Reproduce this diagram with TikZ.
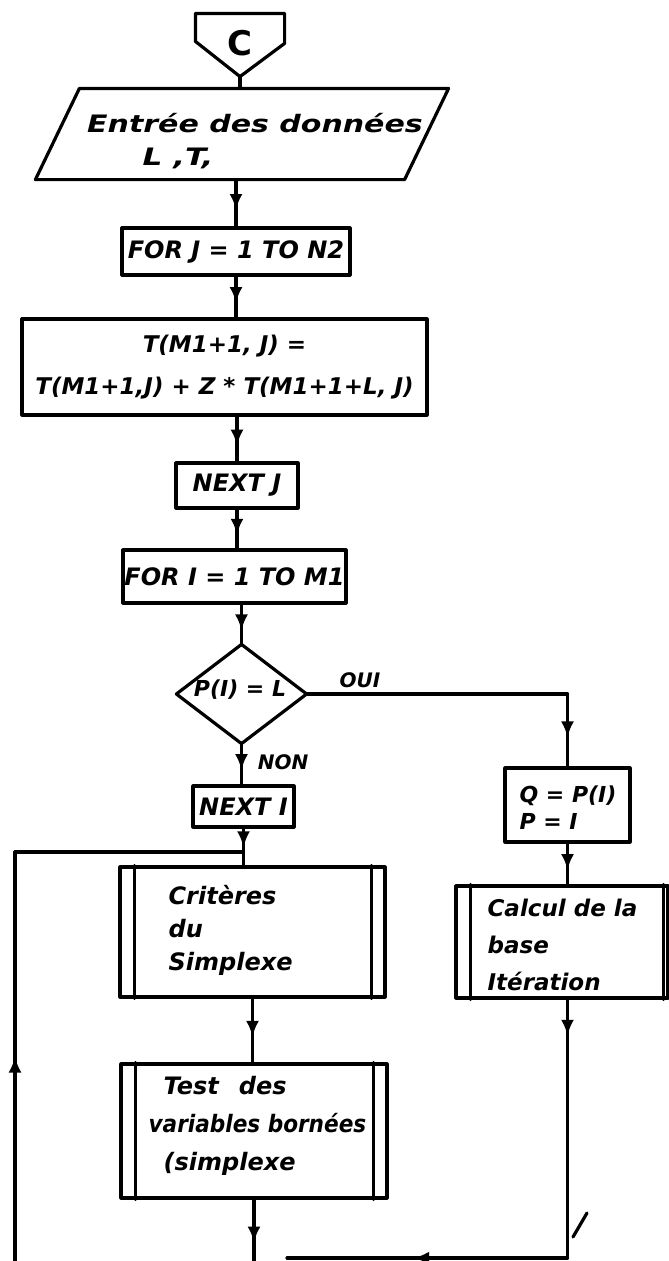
\documentclass[tikz,border=0pt]{standalone}
\usepackage{fontspec}
\setmainfont{DejaVu Sans}
\usepackage{graphicx}
\usetikzlibrary{calc,arrows.meta,decorations.markings}
\begin{document}
\begin{tikzpicture}[x=1pt,y=-1pt,
  line width=3.2pt, line join=round, line cap=round,
  box/.style={draw, rectangle, inner sep=0pt},
  ghost/.style={rectangle, inner sep=0pt},
  txt/.style={font=\fontsize{24}{30}\selectfont\bfseries\itshape, inner sep=0pt},
  lbl/.style={font=\fontsize{20}{22}\selectfont\bfseries\itshape, inner sep=0pt},
  marr/.style={postaction={decorate}, decoration={markings, mark=at position #1 with {\arrow{Latex[length=16pt,width=13pt]}}}}
]
\useasboundingbox (0,0) rectangle (669,1261);

% connector C
\node[ghost, minimum width=86pt, minimum height=60pt] (C) at (240,45) {};
\draw (C.north west) -- (C.north east) -- ([yshift=-30pt]C.north east) -- (C.south) -- ([yshift=-28pt]C.north west) -- cycle;
\node[font=\fontsize{34}{34}\selectfont\bfseries, inner sep=0pt] (Ct) at (240,43) {C};

% input parallelogram
\node[ghost, minimum width=366pt, minimum height=88pt] (in) at (242,134) {};
\draw ([xshift=22pt]in.north west) -- ([xshift=22pt]in.north east) -- ([xshift=-22pt]in.south east) -- ([xshift=-22pt]in.south west) -- cycle;
\node[txt] (in1) at (255,123) {\scalebox{1.25}[1]{Entrée des données}};
\node[txt] (in2) at (178,158) {\scalebox{1.3}[1]{L ,T,}};

% boxes
\node[box, txt, minimum width=228pt, minimum height=47pt] (forj) at (236,251.5) {FOR J = 1 TO N2};
\node[box, txt, align=center, font=\fontsize{23}{42}\selectfont\bfseries\itshape, minimum width=405pt, minimum height=96pt] (tb) at (224.5,367) {T(M1+1, J) =\\T(M1+1,J) + Z * T(M1+1+L, J)};
\node[box, txt, minimum width=122pt, minimum height=45pt] (nextj) at (237,485.5) {NEXT J};
\node[box, txt, minimum width=223pt, minimum height=53pt] (fori) at (234.5,576.5) {FOR I = 1 TO M1};

% decision
\node[ghost, minimum width=127pt, minimum height=96pt] (dec) at (241.5,694) {};
\draw (dec.north) -- (dec.east) -- (dec.south) -- (dec.west) -- cycle;
\node[txt, font=\fontsize{22}{26}\selectfont\bfseries\itshape] (dect) at (240,690) {P(I) = L};
\node[lbl] (oui) at (360,680) {OUI};
\node[lbl] (non) at (283,762) {NON};

\node[box, txt, minimum width=101pt, minimum height=41pt] (nexti) at (243.5,806.5) {NEXT I};

% predefined processes
\node[box, minimum width=265pt, minimum height=130pt] (crit) at (252.5,932) {};
\node[txt, anchor=west, align=left, font=\fontsize{24}{33}\selectfont\bfseries\itshape] (critt) at (167,930) {Critères\\du\\Simplexe};
\node[box, minimum width=266pt, minimum height=134pt] (test) at (254,1131) {};
\node[txt, anchor=west, align=left, font=\fontsize{24}{38}\selectfont\bfseries\itshape] (testt) at (147,1126) {\hspace{15pt}Test\hspace{20pt}des\\\scalebox{0.9}[1]{variables bornées}\\\hspace{15pt}(simplexe};
\node[box, minimum width=125pt, minimum height=74pt] (q) at (567.5,805) {};
\node[txt, anchor=west, align=left, font=\fontsize{22}{27}\selectfont\bfseries\itshape] (qt) at (518,808) {Q = P(I)\\P = I};
\node[box, minimum width=212pt, minimum height=112pt] (calc) at (562,942) {};
\node[txt, anchor=west, align=left, font=\fontsize{23}{37}\selectfont\bfseries\itshape] (calct) at (486,945) {Calcul de la\\base\\Itération};

\foreach \n/\lo/\ro in {crit/16/15, test/16/15, calc/16/6} {
  \draw ([xshift=\lo pt]\n.north west) -- ([xshift=\lo pt]\n.south west);
  \draw ([xshift=-\ro pt]\n.north east) -- ([xshift=-\ro pt]\n.south east);
}

% helper coordinates
\coordinate (jy) at (0,852);
\coordinate (by) at (0,1258);
\coordinate (lb) at (15,1261);
\coordinate (jn) at (nexti.south |- jy);
\coordinate (bl) at (287,1258);
\coordinate (br) at (q.south |- by);
\coordinate (qt0) at (q.north |- dec.east);
\coordinate (tb0) at (test.south |- lb);

% connectors
\draw (C.south) -- (C.south |- in.north);
\draw[marr=0.65] (forj.north |- in.south) -- (forj.north);
\draw[marr=0.65] (forj.south) -- (forj.south |- tb.north);
\draw[marr=0.65] (nextj.north |- tb.south) -- (nextj.north);
\draw[marr=0.65] (nextj.south) -- (nextj.south |- fori.north);
\draw[marr=0.65] (dec.north |- fori.south) -- (dec.north);
\draw[marr=0.65] (dec.south) -- (dec.south |- nexti.north);
\draw[marr=0.8] (nexti.south) -- (jn);
\draw (jn) -- (nexti.south |- crit.north);
\draw[marr=0.5] (lb) -- (lb |- jn);
\draw (lb |- jn) -- (jn);
\draw (dec.east) -- (qt0);
\draw[marr=0.6] (qt0) -- (q.north);
\draw[marr=0.65] (q.south) -- (q.south |- calc.north);
\draw[marr=0.14] (q.south |- calc.south) -- (br);
\draw[marr=0.55] (br) -- (bl);
\draw[marr=0.6] (crit.south) -- (crit.south |- test.north);
\draw[marr=0.7] (test.south) -- (tb0);
\draw (573,1237) -- (587,1213);
\end{tikzpicture}
\end{document}
